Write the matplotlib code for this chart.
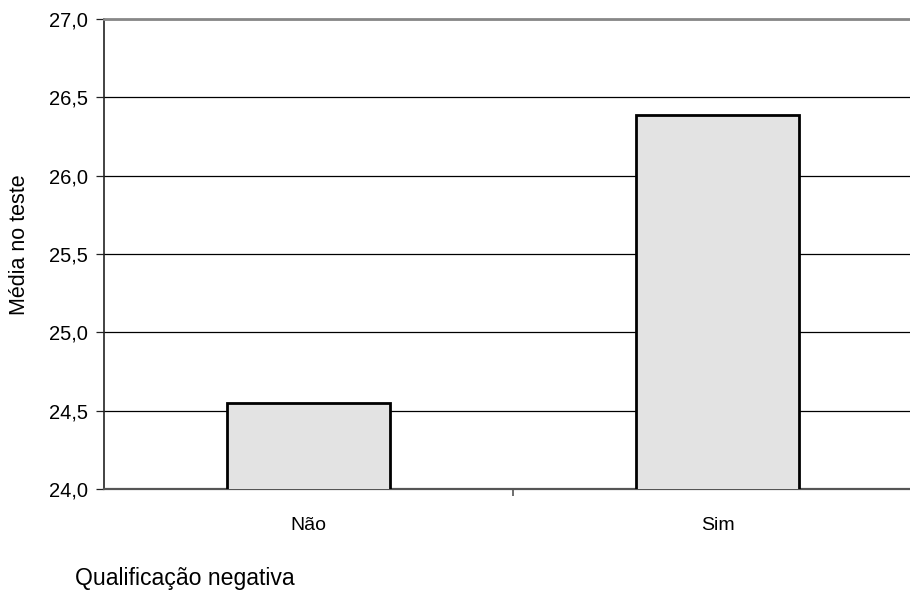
import matplotlib.pyplot as plt

# data
categorias = ["Não", "Sim"]
medias = [24.55, 26.39]
yticks = [24.0, 24.5, 25.0, 25.5, 26.0, 26.5, 27.0]

plt.rcParams['font.family'] = ['Liberation Sans', 'DejaVu Sans']

fig = plt.figure(figsize=(9.1, 5.91), dpi=100)
# plot area runs a bit past the right edge, like the original
ax = fig.add_axes([104 / 910, 1 - 489 / 591, 818 / 910, 470 / 591])

x = range(len(categorias))
ax.bar(x, medias, width=0.4, bottom=0, color="#e3e3e3", edgecolor="black",
       linewidth=2, zorder=3)

ax.set_xlim(-0.5, 1.5)
ax.set_ylim(24, 27)
ax.set_yticks(yticks)
ax.set_yticklabels([f"{v:.1f}".replace(".", ",") for v in yticks], fontsize=14.5)
ax.yaxis.grid(True, color="black", linewidth=0.9, zorder=0)

ax.set_xticks([0.5])
ax.set_xticklabels([""])
ax.tick_params(axis="x", length=5, width=1.2, color="#555555")
ax.tick_params(axis="y", length=5.5, width=0.9, color="#222222", pad=6)
for i, c in enumerate(categorias):
    ax.annotate(c, (i, 0), xycoords=("data", "axes fraction"),
                xytext=(0, -26), textcoords="offset points",
                ha="center", va="center", fontsize=14)

ax.spines["top"].set_color("#888888")
ax.spines["top"].set_linewidth(2)
ax.spines["bottom"].set_color("#555555")
ax.spines["bottom"].set_linewidth(1.6)
ax.spines["left"].set_color("#222222")
ax.spines["left"].set_linewidth(1.2)
ax.spines["right"].set_visible(False)

fig.text(20 / 910, 1 - 245 / 591, "Média no teste", fontsize=15.5,
         rotation=90, ha="center", va="center")
fig.text(75 / 910, 1 - 579 / 591, "Qualificação negativa", fontsize=16.6,
         ha="left", va="center")

fig.savefig("out.png", dpi=100)
